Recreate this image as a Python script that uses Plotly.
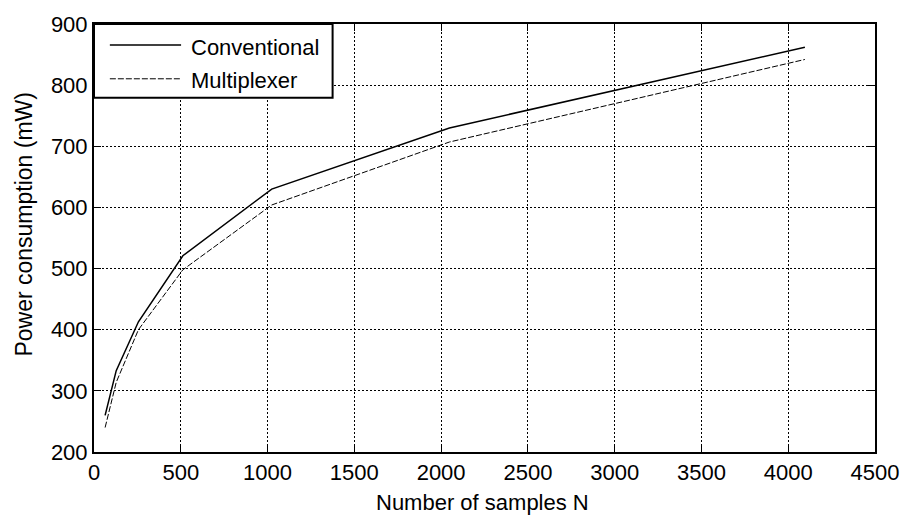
import plotly.graph_objects as go

# ---- data ----
samples_n = [64, 128, 256, 512, 1024, 2048, 4096]
conventional = [260, 333, 413, 521, 630, 730, 862]
multiplexer = [240, 314, 400, 498, 604, 707, 842]
series_names = ["Conventional", "Multiplexer"]
x_ticks = [0, 500, 1000, 1500, 2000, 2500, 3000, 3500, 4000, 4500]
y_ticks = [200, 300, 400, 500, 600, 700, 800, 900]

FONT = "Liberation Sans, Arial, Helvetica, sans-serif"

fig = go.Figure()
fig.add_trace(go.Scatter(x=samples_n, y=conventional, mode="lines", name=series_names[0],
                         line=dict(color="black", width=1.5), showlegend=False))
fig.add_trace(go.Scatter(x=samples_n, y=multiplexer, mode="lines", name=series_names[1],
                         line=dict(color="black", width=1, dash="6px,2px"), showlegend=False))

axis_common = dict(
    showline=True, linecolor="black", linewidth=2, mirror="ticks",
    ticks="inside", ticklen=7, tickwidth=1, tickcolor="black",
    showgrid=True, gridcolor="black", gridwidth=1, griddash="2px,2px",
    zeroline=False, tickfont=dict(family=FONT, size=22, color="black"),
)

fig.update_layout(
    width=911, height=518,
    margin=dict(l=94, r=28, t=17, b=66),
    paper_bgcolor="white", plot_bgcolor="white",
    font=dict(family=FONT, color="black"),
    xaxis=dict(range=[0, 4500], tickvals=x_ticks, ticktext=[str(v) for v in x_ticks], **axis_common),
    yaxis=dict(range=[200, 900], tickvals=y_ticks, ticktext=[str(v) for v in y_ticks], **axis_common),
    showlegend=False,
)

# axis titles
fig.add_annotation(text="Number of samples N", xref="paper", yref="paper",
                   x=0.497, y=-0.117, xanchor="center", yanchor="middle", showarrow=False,
                   font=dict(family=FONT, size=22, color="black"))
fig.add_annotation(text="Power consumption (mW)", xref="paper", yref="paper",
                   x=-0.09, y=0.533, xanchor="center", yanchor="middle", textangle=-90,
                   showarrow=False, font=dict(family=FONT, size=23, color="black"))

# custom MATLAB-style legend
fig.add_shape(type="rect", xref="x domain", yref="y domain", x0=0.0, x1=0.3055, y0=0.8276, y1=1.0,
              line=dict(color="black", width=2), fillcolor="white", layer="above")
leg_rows = [(0.951, dict(color="black", width=1.5)), (0.872, dict(color="black", width=1, dash="6px,2px"))]
for name, (yy, ln) in zip(series_names, leg_rows):
    fig.add_shape(type="line", xref="x domain", yref="y domain", x0=0.0203, x1=0.1115, y0=yy, y1=yy,
                  line=ln, layer="above")
    fig.add_annotation(text=name, xref="x domain", yref="y domain", x=0.1217, y=yy - 0.005,
                       xanchor="left", yanchor="middle", showarrow=False,
                       font=dict(family=FONT, size=22, color="black"))

fig.write_html("out.html", config={"displayModeBar": False, "staticPlot": True},
               post_script="document.body.style.margin='0px';document.body.style.overflow='hidden';")
